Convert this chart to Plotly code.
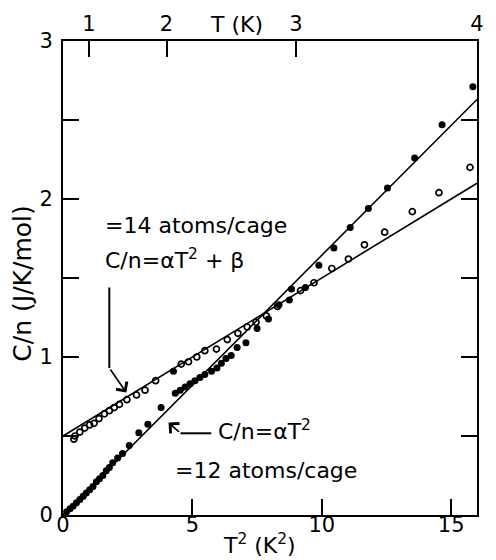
import plotly.graph_objects as go

# ---- data (T^2 in K^2, C/n in J/K/mol) ----
open_x = [0.42, 0.46, 0.65, 0.84, 1.03, 1.20, 1.39, 1.60, 1.79, 1.98, 2.18, 2.47, 2.84, 3.17, 3.58,
          4.57, 4.85, 5.17, 5.48, 5.93, 6.35, 6.76, 7.12, 7.46, 7.86, 8.29, 9.18, 9.70, 10.39, 11.03,
          11.65, 12.43, 13.50, 14.53, 15.73]
open_y = [0.48, 0.50, 0.525, 0.55, 0.57, 0.58, 0.61, 0.64, 0.66, 0.68, 0.70, 0.73, 0.76, 0.79, 0.85,
          0.955, 0.97, 1.00, 1.04, 1.05, 1.11, 1.15, 1.19, 1.22, 1.26, 1.32, 1.42, 1.47, 1.56, 1.62,
          1.71, 1.79, 1.92, 2.04, 2.20]

filled_x = [0.14, 0.27, 0.39, 0.52, 0.65, 0.78, 0.90, 1.03, 1.16, 1.29, 1.41, 1.54, 1.67, 1.79, 1.92,
            2.11, 2.30, 2.56, 2.93, 3.28, 3.79, 4.27, 4.34, 4.53, 4.72, 4.91, 5.10, 5.29, 5.48, 5.74,
            5.95, 6.12, 6.30, 6.50, 6.73, 7.07, 7.50, 7.94, 8.35, 8.75, 8.83, 9.37, 9.89, 10.47, 11.10,
            11.80, 12.54, 13.59, 14.65, 15.84]
filled_y = [0.02, 0.04, 0.056, 0.077, 0.098, 0.118, 0.139, 0.16, 0.18, 0.21, 0.23, 0.25, 0.28, 0.30, 0.33,
            0.36, 0.39, 0.44, 0.52, 0.575, 0.68, 0.91, 0.77, 0.79, 0.81, 0.83, 0.85, 0.87, 0.89, 0.91,
            0.93, 0.96, 0.99, 1.01, 1.06, 1.09, 1.18, 1.24, 1.33, 1.36, 1.43, 1.44, 1.58, 1.69, 1.82,
            1.94, 2.07, 2.26, 2.47, 2.71]

fit14_x = [0, 16]
fit14_y = [0.50, 2.10]
fit12_x = [0, 16]
fit12_y = [0.0, 2.63]

top_tick_T = [1, 2, 3, 4]
y_ticks = [0, 0.5, 1, 1.5, 2, 2.5, 3]
y_ticktext = ["0", "", "1", "", "2", "", "3"]

FONT = "DejaVu Sans"

fig = go.Figure()
fig.add_trace(go.Scatter(x=fit14_x, y=fit14_y, mode="lines",
                         line=dict(color="black", width=1.6), showlegend=False))
fig.add_trace(go.Scatter(x=fit12_x, y=fit12_y, mode="lines",
                         line=dict(color="black", width=1.6), showlegend=False))
fig.add_trace(go.Scatter(x=open_x, y=open_y, mode="markers",
                         marker=dict(symbol="circle-open", size=6, color="black",
                                     line=dict(width=1.7)), showlegend=False))
fig.add_trace(go.Scatter(x=filled_x, y=filled_y, mode="markers",
                         marker=dict(symbol="circle", size=7, color="black"), showlegend=False))
# invisible trace for top axis
fig.add_trace(go.Scatter(x=[t * t for t in top_tick_T], y=[None] * 4, xaxis="x2",
                         mode="markers", showlegend=False, hoverinfo="skip"))

axis_common = dict(showline=True, linecolor="black", linewidth=2, ticks="inside",
                   tickcolor="black", tickwidth=1.6, ticklen=16, showgrid=False,
                   zeroline=False, tickfont=dict(family=FONT, size=21, color="black"))

fig.update_layout(
    width=496, height=560,
    margin=dict(l=63, r=14, t=34, b=45),
    paper_bgcolor="white", plot_bgcolor="white",
    xaxis=dict(range=[0, 16], tickvals=[0, 5, 10, 15], ticktext=["0", "5", "10", "15"],
               mirror=True, ticklabelstandoff=-10, **axis_common),
    xaxis2=dict(range=[0, 16], overlaying="x", side="top",
                tickvals=[t * t for t in top_tick_T], ticktext=[str(t) for t in top_tick_T],
                **axis_common),
    yaxis=dict(range=[0, 3], tickvals=y_ticks, ticktext=y_ticktext, mirror="ticks",
               ticklabelstandoff=4, **axis_common),
)

txt = dict(family=FONT, size=22, color="black")
ann = [
    dict(x=1.53, y=1.83, text="=14 atoms/cage", xanchor="left", yanchor="middle"),
    dict(x=1.53, y=1.62, text="C/n=αT<sup>2</sup> + β", xanchor="left", yanchor="middle"),
    dict(x=5.92, y=0.54, text="C/n=αT<sup>2</sup>", xanchor="left", yanchor="middle"),
    dict(x=4.27, y=0.28, text="=12 atoms/cage", xanchor="left", yanchor="middle"),
]
for a in ann:
    fig.add_annotation(xref="x", yref="y", showarrow=False, font=txt, **a)

# arrows
fig.add_shape(type="line", xref="x", yref="y", x0=1.79, y0=1.44, x1=1.79, y1=0.93,
              line=dict(color="black", width=2))
fig.add_annotation(xref="x", yref="y", axref="x", ayref="y", x=2.45, y=0.775, ax=1.79, ay=0.93,
                   showarrow=True, arrowhead=4, arrowsize=1.6, arrowwidth=1.6, arrowcolor="black", text="")
fig.add_shape(type="line", xref="x", yref="y", x0=5.73, y0=0.517, x1=4.54, y1=0.517,
              line=dict(color="black", width=2))
fig.add_annotation(xref="x", yref="y", axref="x", ayref="y", x=4.08, y=0.585, ax=4.54, ay=0.517,
                   showarrow=True, arrowhead=4, arrowsize=1.6, arrowwidth=1.6, arrowcolor="black", text="")

# axis titles
fig.add_annotation(xref="paper", yref="paper", x=-0.098, y=0.489, text="C/n (J/K/mol)",
                   textangle=-90, showarrow=False, font=dict(family=FONT, size=25, color="black"),
                   xanchor="center", yanchor="middle")
fig.add_annotation(xref="paper", yref="paper", x=0.418, y=1.035, text="T (K)",
                   showarrow=False, font=txt, xanchor="center", yanchor="middle")
fig.add_annotation(xref="paper", yref="paper", x=0.475, y=-0.062, text="T<sup>2</sup> (K<sup>2</sup>)",
                   showarrow=False, font=txt, xanchor="center", yanchor="middle")

fig.write_html("out.html")
